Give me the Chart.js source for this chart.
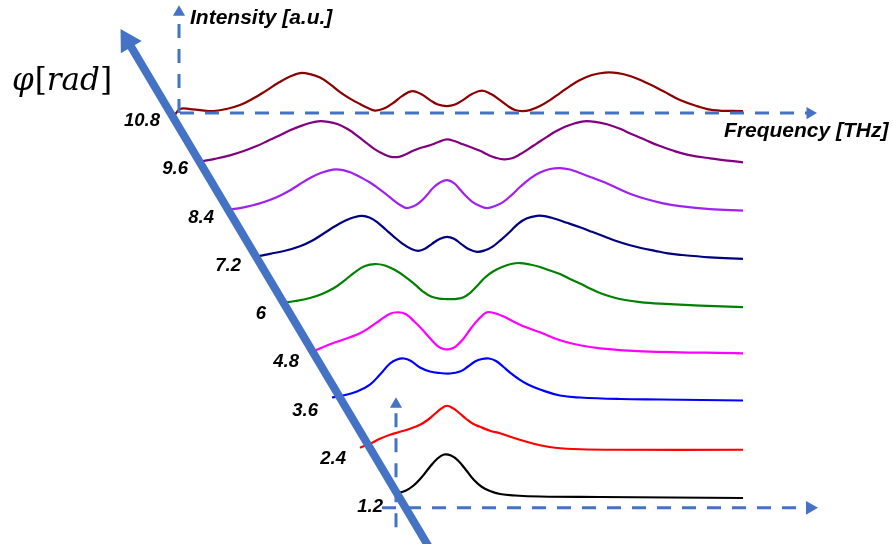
<!DOCTYPE html>
<html>
<head>
<meta charset="utf-8">
<script src="https://cdn.jsdelivr.net/npm/chart.js@4/dist/chart.umd.min.js"></script>
<style>
html,body{margin:0;padding:0;background:#fff;overflow:hidden;}
canvas{display:block;}
</style>
</head>
<body>
<canvas id="c" width="893" height="544"></canvas>
<script>
// ---- data: phase values (rad) and their labels ----
const PHI = [1.2, 2.4, 3.6, 4.8, 6, 7.2, 8.4, 9.6, 10.8];
const PHI_LABELS = ['1.2', '2.4', '3.6', '4.8', '6', '7.2', '8.4', '9.6', '10.8'];
const COLORS = ['#000000', '#ff0000', '#0000ff', '#ff00ff', '#008000', '#000080', '#a020f0', '#800080', '#8b0000'];

// ---- spectra: frequency (a.u.) and intensity (a.u.) for each phase ----
const F_12 = [397, 405, 413, 421, 429, 437, 444, 451, 458, 466, 474, 482, 490, 500, 515, 540, 600, 743];
const I_12 = [0.4, 0.6, 1.1, 1.9, 2.9, 3.8, 4.25, 4.15, 3.65, 2.7, 1.7, 1.0, 0.6, 0.3, 0.15, 0.05, 0.0, -0.1];

const F_24 = [360, 370, 380, 390, 400, 410, 420, 428, 435, 441, 447, 453, 459, 466, 473, 480, 490, 500, 512, 525, 540, 555, 580, 620, 743];
const I_24 = [0.1, 0.5, 1.0, 1.4, 1.7, 2.0, 2.4, 2.9, 3.5, 4.0, 4.3, 4.05, 3.6, 3.0, 2.5, 2.2, 1.8, 1.55, 1.15, 0.75, 0.35, 0.1, -0.05, -0.1, -0.1];

const F_36 = [332, 345, 357, 370, 380, 390, 397, 404, 411, 420, 430, 440, 450, 460, 468, 475, 482, 489, 496, 503, 510, 518, 528, 540, 560, 580, 620, 660, 743];
const I_36 = [0.3, 0.55, 0.9, 1.6, 2.6, 3.7, 4.1, 4.2, 3.95, 3.3, 2.9, 2.75, 2.7, 2.9, 3.4, 3.9, 4.15, 4.2, 3.95, 3.4, 2.8, 2.2, 1.6, 1.1, 0.5, 0.3, 0.15, 0.1, 0.0];

const F_48 = [313, 330, 350, 360, 370, 380, 390, 398, 406, 414, 422, 430, 438, 444, 450, 456, 463, 471, 479, 487, 495, 503, 511, 520, 530, 540, 560, 580, 600, 643, 743];
const I_48 = [0.1, 0.8, 1.5, 1.9, 2.5, 3.2, 3.85, 4.0, 3.8, 3.1, 2.3, 1.4, 0.6, 0.32, 0.32, 0.6, 1.3, 2.4, 3.35, 4.0, 3.9, 3.6, 3.2, 2.75, 2.35, 2.0, 1.2, 0.7, 0.4, 0.1, -0.1];

const F_60 = [280, 295, 310, 322, 334, 345, 355, 365, 375, 385, 395, 405, 415, 423, 431, 439, 447, 455, 463, 470, 477, 485, 493, 502, 511, 520, 530, 540, 550, 560, 570, 580, 590, 600, 612, 625, 640, 660, 700, 743];
const I_60 = [0.1, 0.3, 0.6, 1.0, 1.6, 2.4, 3.2, 3.8, 4.0, 3.85, 3.4, 2.75, 1.95, 1.25, 0.75, 0.55, 0.5, 0.5, 0.65, 1.1, 1.8, 2.65, 3.25, 3.7, 4.0, 4.1, 3.95, 3.7, 3.35, 3.0, 2.5, 2.05, 1.55, 1.1, 0.7, 0.4, 0.2, 0.05, -0.15, -0.3];

const F_72 = [255, 270, 285, 300, 312, 324, 335, 345, 354, 362, 370, 378, 386, 394, 402, 410, 418, 425, 432, 440, 447, 454, 461, 469, 477, 485, 493, 501, 510, 518, 527, 537, 546, 555, 567, 580, 592, 605, 617, 630, 642, 655, 668, 680, 710, 743];
const I_72 = [-0.1, 0.2, 0.5, 0.95, 1.5, 2.25, 2.95, 3.5, 3.85, 4.0, 3.8, 3.3, 2.6, 1.9, 1.25, 0.75, 0.5, 0.7, 1.2, 1.7, 1.9, 1.7, 1.2, 0.65, 0.4, 0.55, 0.95, 1.6, 2.4, 3.2, 3.75, 4.0, 3.95, 3.7, 3.3, 2.85, 2.4, 1.9, 1.45, 1.05, 0.75, 0.5, 0.25, 0.1, -0.15, -0.3];

const F_84 = [228, 240, 252, 264, 276, 288, 300, 311, 322, 333, 343, 352, 361, 370, 378, 386, 394, 401, 407, 414, 420, 427, 433, 440, 447, 454, 460, 466, 472, 479, 487, 495, 503, 511, 520, 530, 540, 550, 560, 570, 580, 592, 605, 618, 632, 646, 662, 680, 710, 743];
const I_84 = [-0.2, -0.05, 0.2, 0.55, 1.0, 1.6, 2.35, 3.0, 3.5, 3.8, 3.75, 3.45, 3.0, 2.5, 1.95, 1.35, 0.7, 0.2, -0.05, 0.15, 0.55, 1.25, 1.95, 2.5, 2.75, 2.45, 1.8, 1.15, 0.6, 0.2, -0.05, 0.15, 0.55, 1.2, 2.05, 2.9, 3.5, 3.85, 3.95, 3.8, 3.45, 3.0, 2.5, 1.9, 1.3, 0.85, 0.45, 0.15, -0.15, -0.3];

const F_96 = [202, 215, 230, 243, 256, 268, 280, 290, 300, 309, 318, 328, 338, 348, 358, 367, 375, 383, 391, 399, 406, 413, 421, 430, 439, 447, 455, 463, 471, 480, 488, 496, 504, 512, 520, 528, 537, 547, 556, 565, 575, 584, 595, 607, 620, 632, 645, 658, 672, 688, 710, 743];
const I_96 = [-0.2, 0.05, 0.4, 0.8, 1.3, 1.85, 2.4, 2.9, 3.3, 3.6, 3.8, 3.75, 3.5, 3.0, 2.3, 1.6, 1.0, 0.55, 0.25, 0.25, 0.5, 0.85, 1.15, 1.4, 1.75, 2.0, 1.8, 1.5, 1.2, 0.85, 0.45, 0.15, 0.0, 0.1, 0.5, 1.0, 1.6, 2.25, 2.8, 3.25, 3.6, 3.8, 3.75, 3.5, 3.05, 2.5, 1.95, 1.4, 0.9, 0.45, 0.1, -0.3];

const F_108 = [174, 180, 190, 200, 213, 226, 240, 254, 267, 278, 289, 300, 310, 320, 330, 340, 350, 360, 368, 375, 384, 393, 402, 412, 421, 430, 438, 447, 455, 463, 472, 482, 491, 500, 508, 515, 522, 530, 540, 550, 560, 570, 580, 592, 605, 618, 630, 647, 663, 680, 697, 713, 743];
const I_108 = [-0.5, 0.2, 0.2, 0.1, 0.0, 0.2, 0.6, 1.3, 2.1, 2.8, 3.4, 3.8, 3.7, 3.35, 2.7, 1.9, 1.25, 0.7, 0.3, 0.05, 0.25, 0.8, 1.5, 2.0, 1.7, 1.1, 0.65, 0.5, 0.65, 1.1, 1.7, 2.05, 1.7, 1.1, 0.5, 0.1, 0.0, 0.1, 0.5, 1.1, 1.8, 2.5, 3.1, 3.6, 3.85, 3.8, 3.5, 2.8, 2.0, 1.1, 0.5, 0.1, 0.0];

const FREQS = [F_12, F_24, F_36, F_48, F_60, F_72, F_84, F_96, F_108];
const INTS = [I_12, I_24, I_36, I_48, I_60, I_72, I_84, I_96, I_108];

// waterfall: 1 a.u. of intensity expressed in rad of the vertical offset axis
const INT_SCALE = 0.2488;

// ---- illustration axes (frequency a.u., phase rad) ----
const PHI_AXIS_FREQ = [430, 127.7];
const PHI_AXIS_PHI = [-0.09, 12.54];
const BACK_FREQ_AXIS_FREQ = [180, 810];
const BACK_FREQ_AXIS_PHI = [10.75, 10.75];
const BACK_INT_AXIS_FREQ = [179, 179];
const BACK_INT_AXIS_PHI = [10.75, 13.26];
const FRONT_FREQ_AXIS_FREQ = [382, 810];
const FRONT_FREQ_AXIS_PHI = [0.93, 0.93];
const FRONT_INT_AXIS_FREQ = [396, 396];
const FRONT_INT_AXIS_PHI = [0.45, 3.51];

const BLUE = '#4472c4';

function pts(fx, fy) { return fx.map((v, i) => ({x: v, y: fy[i]})); }

const datasets = [];
// main phase arrow (drawn on top)
datasets.push({
  data: pts(PHI_AXIS_FREQ, PHI_AXIS_PHI),
  borderColor: BLUE, borderWidth: 8, borderCapStyle: 'butt',
  pointRadius: [0, 14], pointStyle: 'triangle', pointRotation: -30.8,
  pointBackgroundColor: BLUE, pointBorderWidth: 0, tension: 0
});
function dashedAxis(fx, fy, rot, r) {
  return {
    data: pts(fx, fy),
    borderColor: BLUE, borderWidth: 3, borderDash: [14, 11], borderCapStyle: 'butt',
    pointRadius: [0, r], pointStyle: 'triangle', pointRotation: rot,
    pointBackgroundColor: BLUE, pointBorderWidth: 0, tension: 0
  };
}
datasets.push(dashedAxis(BACK_FREQ_AXIS_FREQ, BACK_FREQ_AXIS_PHI, 90, 7));
datasets.push(dashedAxis(BACK_INT_AXIS_FREQ, BACK_INT_AXIS_PHI, 0, 7));
datasets.push(dashedAxis(FRONT_FREQ_AXIS_FREQ, FRONT_FREQ_AXIS_PHI, 90, 8));
datasets.push(dashedAxis(FRONT_INT_AXIS_FREQ, FRONT_INT_AXIS_PHI, 0, 7));

PHI.forEach((phi, k) => {
  datasets.push({
    label: PHI_LABELS[k],
    data: FREQS[k].map((f, i) => ({x: f, y: phi + INTS[k][i] * INT_SCALE})),
    borderColor: COLORS[k], borderWidth: 2.2, pointRadius: 0,
    tension: 0.4, fill: false
  });
});

const textPlugin = {
  id: 'texts',
  afterDatasetsDraw(chart) {
    const {ctx} = chart;
    const x = chart.scales.x, y = chart.scales.y;
    ctx.save();
    ctx.fillStyle = '#000';
    ctx.textBaseline = 'alphabetic';
    // phase tick labels
    ctx.font = 'italic bold 18.5px "Liberation Sans", Arial, sans-serif';
    ctx.textAlign = 'right';
    PHI.forEach((phi, k) => {
      ctx.fillText(PHI_LABELS[k], x.getPixelForValue(FREQS[k][0]) - 14, y.getPixelForValue(phi) + 15);
    });
    // axis titles
    ctx.font = 'italic bold 21px "Liberation Sans", Arial, sans-serif';
    ctx.textAlign = 'left';
    ctx.fillText('Intensity [a.u.]', x.getPixelForValue(BACK_INT_AXIS_FREQ[0]) + 11, y.getPixelForValue(BACK_INT_AXIS_PHI[1]) + 12);
    ctx.fillText('Frequency [THz]', x.getPixelForValue(BACK_FREQ_AXIS_FREQ[1]) - 86, y.getPixelForValue(BACK_FREQ_AXIS_PHI[0]) + 24);
    // phi [rad]
    let px = 12;
    const py = 90;
    const parts = [['φ', 'italic'], ['[', 'normal'], ['rad', 'italic'], [']', 'normal']];
    parts.forEach(([t, st]) => {
      ctx.font = st + ' 31px "DejaVu Serif", serif';
      ctx.fillText(t, px, py);
      px += ctx.measureText(t).width + (t === 'φ' ? 1 : 0);
    });
    ctx.restore();
  }
};

new Chart(document.getElementById('c'), {
  type: 'line',
  data: {datasets},
  options: {
    responsive: false, animation: false, devicePixelRatio: 1,
    layout: {padding: 0, autoPadding: false},
    plugins: {legend: {display: false}, tooltip: {enabled: false}, title: {display: false}},
    events: [],
    scales: {
      x: {type: 'linear', display: false, min: 0, max: 893},
      y: {type: 'linear', display: false, min: 0.031, max: 13.563}
    }
  },
  plugins: [textPlugin]
});
</script>
</body>
</html>
